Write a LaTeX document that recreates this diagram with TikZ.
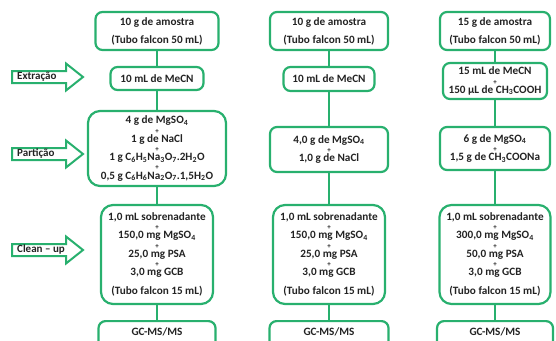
\documentclass[tikz,border=0pt]{standalone}
\usepackage{fontspec}
\setmainfont{Carlito}
\usetikzlibrary{positioning}

\definecolor{qgreen}{RGB}{40,176,110}
\definecolor{qtext}{RGB}{35,35,35}

\tikzset{
  stepbox/.style={draw=qgreen, line width=2.2pt, rounded corners=7pt,
    fill=white, align=center, inner sep=0pt, text=qtext,
    font=\bfseries\fontsize{11.2}{12}\selectfont},
  tallbox/.style={stepbox, rounded corners=12pt},
  endbox/.style={stepbox, anchor=north, text height=14pt, text depth=26pt},
  link/.style={draw=qgreen, line width=2.2pt},
  phase/.style={draw=qgreen, line width=2pt, fill=white, line join=miter},
  phaselabel/.style={anchor=west, inner sep=0pt, text=qtext,
    font=\bfseries\fontsize{11}{12}\selectfont},
}
% small plus between two lines
\newcommand{\pl}{\\[-2.8pt]{\fontsize{7}{7}\selectfont+}\\[-2.8pt]}
\newcommand{\sub}[1]{\textsubscript{#1}}

\begin{document}
\begin{tikzpicture}[x=1pt,y=-1pt]
  \useasboundingbox (0,0) rectangle (556,340);
  % column 1
  \node[stepbox, minimum width=123pt, minimum height=38pt] (a1) at (157,31)
    {10 g de amostra\\[6pt](Tubo falcon 50 mL)};
  \node[stepbox, minimum width=93pt, minimum height=23pt] (a2) at (157,78.5)
    {10 mL de MeCN};
  \node[tallbox, minimum width=138pt, minimum height=75pt] (a3) at (157,148.5)
    {4 g de MgSO\sub{4}\pl 1 g de NaCl\pl
     1 g C\sub{6}H\sub{5}Na\sub{3}O\sub{7}.2H\sub{2}O\pl
     0,5 g C\sub{6}H\sub{6}Na\sub{2}O\sub{7}.1,5H\sub{2}O};
  \node[tallbox, minimum width=112pt, minimum height=99pt] (a4) at (157,254.5)
    {1,0 mL sobrenadante\pl 150,0 mg MgSO\sub{4}\pl 25,0 mg PSA\pl
     3,0 mg GCB\\[7pt](Tubo falcon 15 mL)};
  \node[endbox, minimum width=117pt] (a5) at (157,320) {GC-MS/MS};
  % column 2
  \node[stepbox, minimum width=118pt, minimum height=38pt] (b1) at (329,31)
    {10 g de amostra\\[6pt](Tubo falcon 50 mL)};
  \node[stepbox, minimum width=91pt, minimum height=24pt] (b2) at (329,79)
    {10 mL de MeCN};
  \node[stepbox, minimum width=118pt, minimum height=45pt] (b3) at (329,149.5)
    {4,0 g de MgSO\sub{4}\pl 1,0 g de NaCl};
  \node[tallbox, minimum width=112pt, minimum height=99pt] (b4) at (329,254.5)
    {1,0 mL sobrenadante\pl 150,0 mg MgSO\sub{4}\pl 25,0 mg PSA\pl
     3,0 mg GCB\\[7pt](Tubo falcon 15 mL)};
  \node[endbox, minimum width=119pt] (b5) at (329,320) {GC-MS/MS};
  % column 3
  \node[stepbox, minimum width=110pt, minimum height=38pt] (c1) at (495,31)
    {15 g de amostra\\[6pt](Tubo falcon 50 mL)};
  \node[stepbox, minimum width=104pt, minimum height=36pt] (c2) at (495,81)
    {15 mL de MeCN\pl 150 µL de CH\sub{3}COOH};
  \node[stepbox, minimum width=110pt, minimum height=43pt] (c3) at (495,148.5)
    {6 g de MgSO\sub{4}\pl 1,5 g de CH\sub{3}COONa};
  \node[tallbox, minimum width=111pt, minimum height=99pt] (c4) at (495,254.5)
    {1,0 mL sobrenadante\pl 300,0 mg MgSO\sub{4}\pl 50,0 mg PSA\pl
     3,0 mg GCB\\[7pt](Tubo falcon 15 mL)};
  \node[endbox, minimum width=116pt] (c5) at (495,320) {GC-MS/MS};
  % links
  \foreach \c in {a,b,c}
    \foreach \i/\j in {1/2,2/3,3/4,4/5}
      \draw[link] (\c\i) -- (\c\j);
  % phase arrows
  \foreach \name/\txt/\y in {ext/Extração/77, par/Partição/154, cln/Clean -- up/250}{
    \draw[phase] (12,\y-6) -- (66,\y-6) -- (66,\y-13.5) -- (83,\y)
      -- (66,\y+13.5) -- (66,\y+6) -- (12,\y+6) -- cycle;
    \node[phaselabel] (\name) at (17,\y) {\txt};
  }
\end{tikzpicture}
\end{document}
